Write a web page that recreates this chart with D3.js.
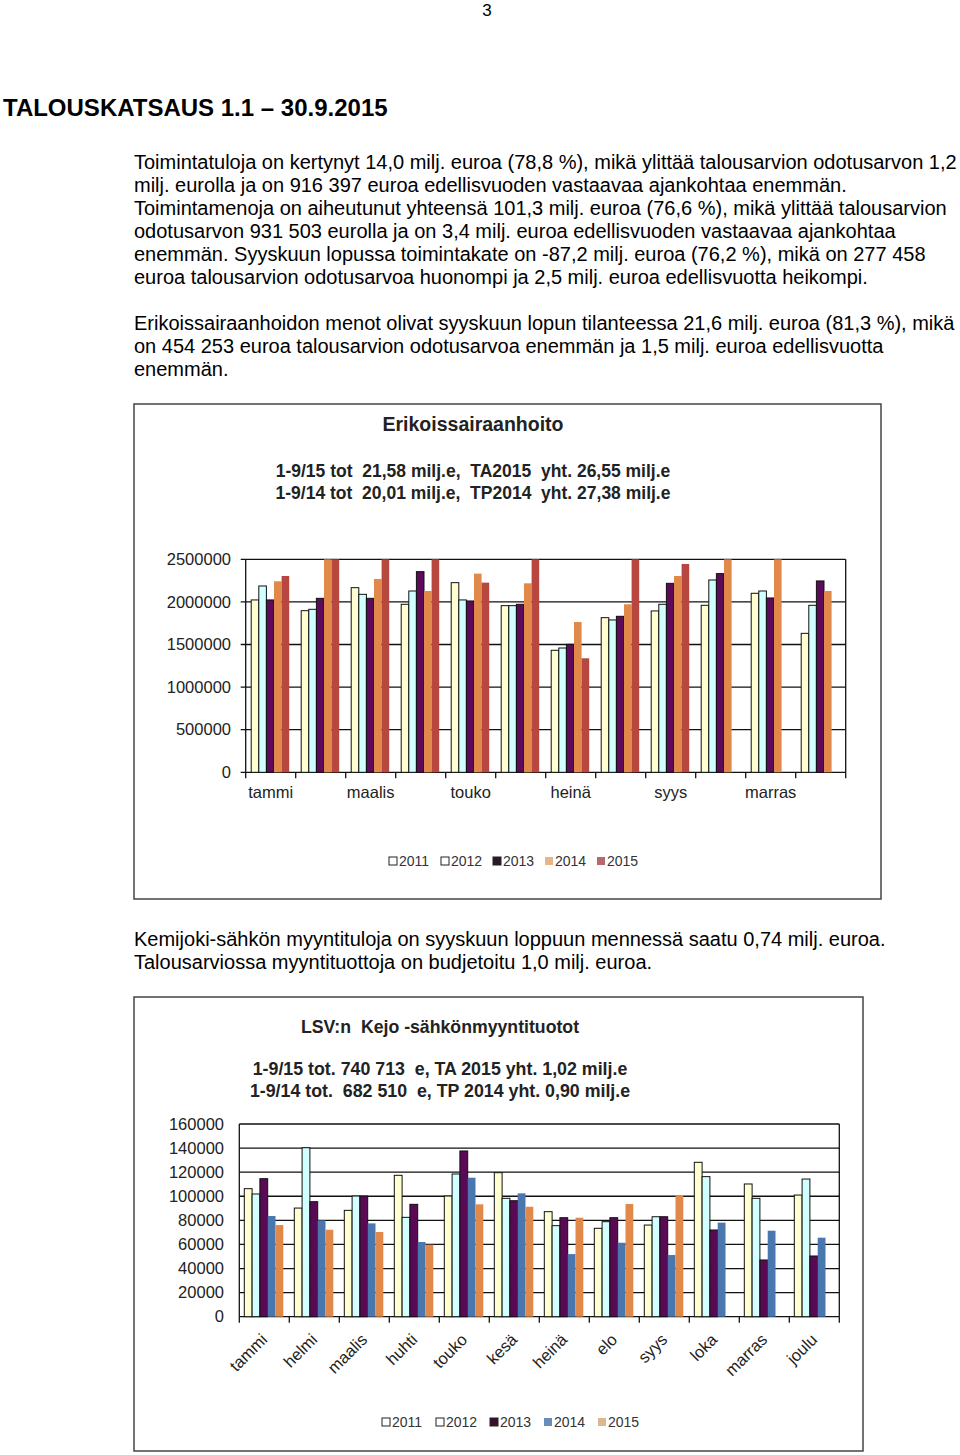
<!DOCTYPE html>
<html lang="fi">
<head>
<meta charset="UTF-8">
<title>Talouskatsaus 1.1 – 30.9.2015</title>
<script src="https://cdn.jsdelivr.net/npm/d3@7"></script>
<style>
	body {
		margin: 0;
		background-color: #fff;
	}
	svg text {
		font-family: "Liberation Sans", Arial, sans-serif;
	}
	.para {
		font-size: 20px;
		fill: #000;
	}
	.ctitle {
		font-weight: bold;
		fill: #222;
		white-space: pre;
	}
	.tick-lbl {
		font-size: 16.5px;
		fill: #222;
	}
	.legend {
		font-size: 14px;
		fill: #333;
	}
</style>
</head>
<body>
<script>
	// months and series
	var months = ['tammi', 'helmi', 'maalis', 'huhti', 'touko', 'kesä', 'heinä', 'elo', 'syys', 'loka', 'marras', 'joulu'];
	var years = ['2011', '2012', '2013', '2014', '2015'];

	// Erikoissairaanhoito, euroa / kk (bars above 2 500 000 are cut by the axis)
	var esh2011 = [2023000, 1897000, 2167000, 1972000, 2226000, 1956000, 1432000, 1815000, 1894000, 1960000, 2101000, 1631000];
	var esh2012 = [2187000, 1913000, 2089000, 2128000, 2023000, 1956000, 1459000, 1788000, 1972000, 2257000, 2128000, 1960000];
	var esh2013 = [2023000, 2042000, 2042000, 2355000, 2011000, 1972000, 1502000, 1831000, 2218000, 2332000, 2046000, 2246000];
	var esh2014 = [2242000, 2650000, 2269000, 2128000, 2332000, 2218000, 1764000, 1972000, 2304000, 2600000, 2600000, 2128000];
	var esh2015 = [2304000, 2700000, 2650000, 2600000, 2226000, 2650000, 1338000, 2600000, 2445000, null, null, null];
	var eshTicks = [0, 500000, 1000000, 1500000, 2000000, 2500000];

	// LSV:n Kejo -sähkönmyyntituotot, euroa / kk
	var kejo2011 = [106300, 90200, 88300, 117400, 100200, 119600, 87200, 73400, 76100, 128200, 110200, 101000];
	var kejo2012 = [101900, 140300, 100200, 82500, 118500, 98300, 75600, 78900, 83000, 116300, 98300, 114300];
	var kejo2013 = [114600, 95500, 100200, 93300, 137600, 96300, 82200, 82200, 83000, 72000, 47100, 50400];
	var kejo2014 = [83600, 80000, 77500, 62000, 115400, 102400, 52000, 61400, 51200, 78100, 71400, 65600];
	var kejo2015 = [76100, 72200, 70300, 59800, 93300, 91300, 82200, 93600, 101000, null, null, null];
	var kejoTicks = [0, 20000, 40000, 60000, 80000, 100000, 120000, 140000, 160000];

	var paragraphs1 = [
		'Toimintatuloja on kertynyt 14,0 milj. euroa (78,8 %), mikä ylittää talousarvion odotusarvon 1,2',
		'milj. eurolla ja on 916 397 euroa edellisvuoden vastaavaa ajankohtaa enemmän.',
		'Toimintamenoja on aiheutunut yhteensä 101,3 milj. euroa (76,6 %), mikä ylittää talousarvion',
		'odotusarvon 931 503 eurolla ja on 3,4 milj. euroa edellisvuoden vastaavaa ajankohtaa',
		'enemmän. Syyskuun lopussa toimintakate on -87,2 milj. euroa (76,2 %), mikä on 277 458',
		'euroa talousarvion odotusarvoa huonompi ja 2,5 milj. euroa edellisvuotta heikompi.'
	];
	var paragraphs2 = [
		'Erikoissairaanhoidon menot olivat syyskuun lopun tilanteessa 21,6 milj. euroa (81,3 %), mikä',
		'on 454 253 euroa talousarvion odotusarvoa enemmän ja 1,5 milj. euroa edellisvuotta',
		'enemmän.'
	];
	var paragraphs3 = [
		'Kemijoki-sähkön myyntituloja on syyskuun loppuun mennessä saatu 0,74 milj. euroa.',
		'Talousarviossa myyntituottoja on budjetoitu 1,0 milj. euroa.'
	];

	var W = 960, H = 1455;

	var svg = d3.select('body').append('svg')
		.attr('width', W)
		.attr('height', H);

	svg.append('rect').attr('width', W).attr('height', H).attr('fill', '#fff');

	// page text
	svg.append('text')
		.attr('x', 487).attr('y', 16)
		.attr('text-anchor', 'middle')
		.style('font-size', '17px')
		.text('3');

	svg.append('text')
		.attr('x', 3).attr('y', 116)
		.style('font-size', '24px')
		.style('font-weight', 'bold')
		.text('TALOUSKATSAUS 1.1 – 30.9.2015');

	function para(lines, top) {
		svg.selectAll(null)
			.data(lines)
			.enter()
			.append('text')
			.attr('class', 'para')
			.attr('x', 134)
			.attr('y', function (d, i) { return top + i * 23; })
			.attr('dy', '0.35em')
			.text(function (d) { return d; });
	}
	para(paragraphs1, 162);
	para(paragraphs2, 323);
	para(paragraphs3, 939);

	function drawChart(c) {
		var g = svg.append('g');

		g.append('rect')
			.attr('x', c.frame[0]).attr('y', c.frame[1])
			.attr('width', c.frame[2]).attr('height', c.frame[3])
			.attr('fill', '#fff')
			.attr('stroke', '#444')
			.attr('stroke-width', 1.5);

		g.append('text')
			.attr('class', 'ctitle')
			.attr('x', c.cx).attr('y', c.titleY)
			.attr('dy', '0.35em')
			.attr('text-anchor', 'middle')
			.style('font-size', c.titleSize + 'px')
			.text(c.title);

		g.selectAll('.sub')
			.data(c.subtitles)
			.enter()
			.append('text')
			.attr('class', 'ctitle sub')
			.attr('x', c.cx)
			.attr('y', function (d, i) { return c.subY + i * 22; })
			.attr('dy', '0.35em')
			.attr('text-anchor', 'middle')
			.style('font-size', c.subSize + 'px')
			.text(function (d) { return d; });

		var x0 = d3.scaleBand()
			.domain(months)
			.range([c.left, c.right]);

		var x1 = d3.scaleBand()
			.domain(years)
			.range([c.inner[0], c.inner[1]]);

		var y = d3.scaleLinear()
			.domain([0, c.ticks[c.ticks.length - 1]])
			.range([c.bottom, c.top])
			.clamp(true);

		// gridlines
		g.selectAll('.grid')
			.data(c.ticks)
			.enter()
			.append('line')
			.attr('x1', c.left - c.outTick)
			.attr('x2', c.right)
			.attr('y1', function (d) { return y(d); })
			.attr('y2', function (d) { return y(d); })
			.attr('stroke', '#111')
			.attr('stroke-width', 1.3);

		g.selectAll('.ylbl')
			.data(c.ticks)
			.enter()
			.append('text')
			.attr('class', 'tick-lbl')
			.attr('x', c.ylblX)
			.attr('y', function (d) { return y(d); })
			.attr('dy', '0.35em')
			.attr('text-anchor', 'end')
			.text(function (d) { return d; });

		// bars
		var rows = [];
		months.forEach(function (m, i) {
			c.series.forEach(function (s, j) {
				if (s[i] != null) rows.push({ m: m, yr: years[j], v: s[i], j: j });
			});
		});

		g.selectAll('.bar')
			.data(rows)
			.enter()
			.append('rect')
			.attr('x', function (d) { return x0(d.m) + x1(d.yr); })
			.attr('width', x1.bandwidth())
			.attr('y', function (d) { return y(d.v); })
			.attr('height', function (d) { return c.bottom - y(d.v); })
			.attr('fill', function (d) { return c.colors[d.j]; })
			.attr('stroke', function (d) { return d.j < 3 ? '#111' : 'none'; })
			.attr('stroke-width', 1);

		// frame of the plot
		g.append('line')
			.attr('x1', c.left).attr('x2', c.left)
			.attr('y1', c.top).attr('y2', c.bottom)
			.attr('stroke', '#111').attr('stroke-width', 1.3);
		g.append('line')
			.attr('x1', c.right).attr('x2', c.right)
			.attr('y1', c.top).attr('y2', c.bottom)
			.attr('stroke', '#111').attr('stroke-width', 1.3);

		// category ticks
		var edges = months.map(function (m) { return x0(m); }).concat([c.right]);
		g.selectAll('.xtick')
			.data(edges)
			.enter()
			.append('line')
			.attr('x1', function (d) { return d; })
			.attr('x2', function (d) { return d; })
			.attr('y1', c.bottom)
			.attr('y2', c.bottom + 6)
			.attr('stroke', '#111')
			.attr('stroke-width', 1.3);

		var labelled = months.filter(function (m, i) { return i % c.labelEvery === 0; });
		var xl = g.selectAll('.xlbl')
			.data(labelled)
			.enter()
			.append('text')
			.attr('class', 'tick-lbl')
			.text(function (d) { return d; });

		if (c.rotate) {
			xl.attr('text-anchor', 'end')
				.attr('transform', function (d) {
					return 'translate(' + (x0(d) + x0.bandwidth() / 2 + 4) + ',' + (c.bottom + 24) + ') rotate(-45)';
				});
		} else {
			xl.attr('text-anchor', 'middle')
				.attr('x', function (d) { return x0(d) + x0.bandwidth() / 2; })
				.attr('y', c.bottom + 20)
				.attr('dy', '0.35em');
		}

		// legend
		var leg = g.selectAll('.legend')
			.data(years)
			.enter()
			.append('g')
			.attr('class', 'legend')
			.attr('transform', function (d, i) {
				return 'translate(' + (c.legX + i * c.legStep) + ',' + c.legY + ')';
			});

		leg.append('rect')
			.attr('x', 0).attr('y', -4)
			.attr('width', 8).attr('height', 8)
			.attr('fill', function (d, i) { return c.legColors[i]; })
			.attr('stroke', function (d, i) { return i < 3 ? '#222' : 'none'; })
			.attr('stroke-width', 1);

		leg.append('text')
			.attr('x', 10)
			.attr('dy', '0.35em')
			.text(function (d) { return d; });
	}

	drawChart({
		frame: [134, 404, 747, 495],
		title: 'Erikoissairaanhoito',
		titleSize: 19.5,
		subtitles: ['1-9/15 tot  21,58 milj.e,  TA2015  yht. 26,55 milj.e',
			'1-9/14 tot  20,01 milj.e,  TP2014  yht. 27,38 milj.e'],
		subSize: 17.5,
		cx: 473, titleY: 424, subY: 471,
		left: 245.7, right: 845.7, top: 559.3, bottom: 772.3,
		inner: [5.5, 43.5],
		outTick: 5,
		ticks: eshTicks,
		ylblX: 231,
		series: [esh2011, esh2012, esh2013, esh2014, esh2015],
		colors: ['#ffffd2', '#d2ffff', '#5e0a5a', '#e0894a', '#b8483f'],
		legColors: ['#ffffff', '#ffffff', '#2a1a28', '#e6b58a', '#b86868'],
		labelEvery: 2,
		rotate: false,
		legX: 389, legStep: 52, legY: 861
	});

	drawChart({
		frame: [134, 997, 729, 454],
		title: 'LSV:n  Kejo -sähkönmyyntituotot',
		titleSize: 17.7,
		subtitles: ['1-9/15 tot. 740 713  e, TA 2015 yht. 1,02 milj.e',
			'1-9/14 tot.  682 510  e, TP 2014 yht. 0,90 milj.e'],
		subSize: 17.8,
		cx: 440, titleY: 1027, subY: 1069,
		left: 239.3, right: 839.3, top: 1124, bottom: 1316.7,
		inner: [5, 44],
		outTick: 0,
		ticks: kejoTicks,
		ylblX: 224,
		series: [kejo2011, kejo2012, kejo2013, kejo2014, kejo2015],
		colors: ['#ffffd2', '#d2ffff', '#5a0a55', '#4a78ae', '#e0894a'],
		legColors: ['#ffffff', '#ffffff', '#3a1030', '#6a8cb8', '#d8b890'],
		labelEvery: 1,
		rotate: true,
		legX: 382, legStep: 54, legY: 1422
	});
</script>
</body>
</html>
